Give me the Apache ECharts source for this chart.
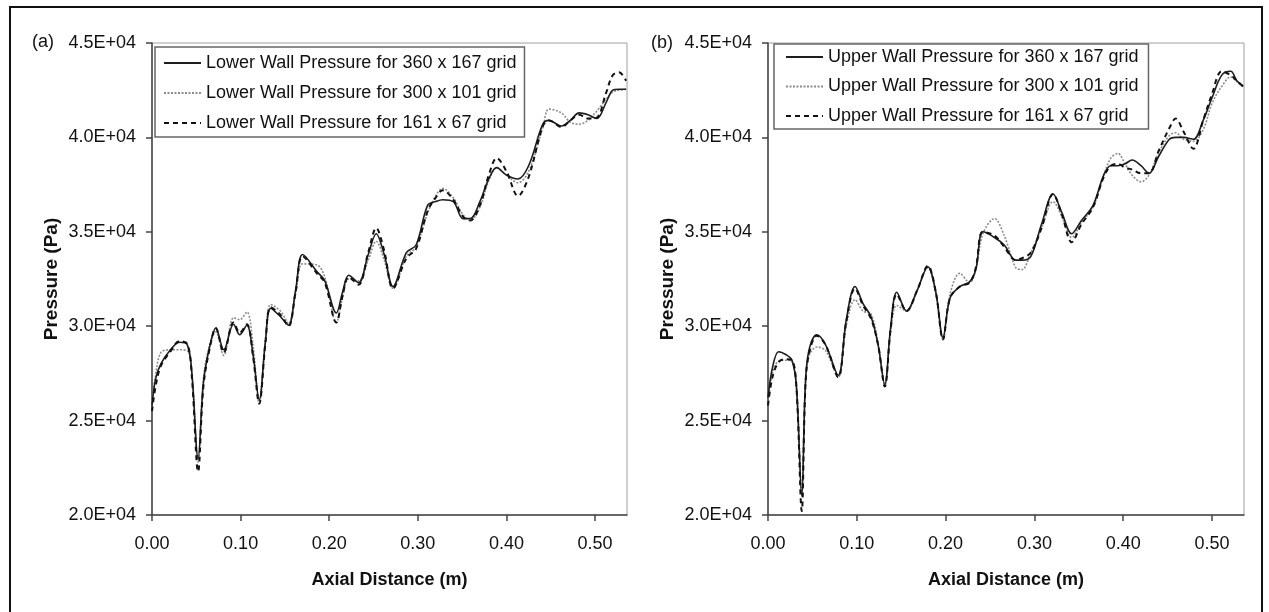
<!DOCTYPE html>
<html>
<head>
<meta charset="utf-8">
<script src="https://cdn.jsdelivr.net/npm/echarts@6/dist/echarts.min.js"></script>
<style>
html,body{margin:0;padding:0;background:#fff;}
#chart{width:1269px;height:612px;}
</style>
</head>
<body>
<div id="chart"></div>
<script>
// ---------- data ----------
const xTicks = [0, 0.1, 0.2, 0.3, 0.4, 0.5];
const yMin = 20000, yMax = 45000, yStep = 5000;
const xMax = 0.536;

const namesLower = [
  'Lower Wall Pressure for 360 x 167 grid',
  'Lower Wall Pressure for 300 x 101 grid',
  'Lower Wall Pressure for 161 x 67 grid'
];
const namesUpper = [
  'Upper Wall Pressure for 360 x 167 grid',
  'Upper Wall Pressure for 300 x 101 grid',
  'Upper Wall Pressure for 161 x 67 grid'
];

// (a) lower wall
const xA = [0, 0.004, 0.01, 0.02, 0.031, 0.04, 0.045, 0.052, 0.058, 0.065, 0.072, 0.081, 0.092, 0.099, 0.107, 0.114, 0.121, 0.128, 0.134, 0.145, 0.154, 0.162, 0.170, 0.186, 0.195, 0.208, 0.215, 0.222, 0.233, 0.244, 0.253, 0.262, 0.272, 0.287, 0.298, 0.311, 0.320, 0.328, 0.340, 0.351, 0.359, 0.370, 0.380, 0.389, 0.400, 0.413, 0.425, 0.441, 0.448, 0.462, 0.472, 0.482, 0.492, 0.502, 0.512, 0.520, 0.527, 0.535];
const lower360 = [25800, 27200, 28000, 28700, 29150, 29000, 27500, 23000, 27000, 28900, 29900, 28750, 30100, 29550, 30050, 28500, 26100, 29200, 30950, 30500, 30050, 31900, 33800, 32900, 32400, 30700, 31800, 32700, 32300, 33800, 34900, 33800, 32100, 33900, 34300, 36400, 36600, 36700, 36600, 35700, 35700, 36600, 37800, 38400, 38000, 37800, 38500, 40700, 40900, 40600, 40900, 41300, 41200, 41000, 41800, 42500, 42550, 42550];
const lower300 = [26000, 27400, 28600, 28750, 28750, 28700, 27500, 22800, 27200, 29000, 29700, 28450, 30450, 30350, 30750, 29000, 25900, 29300, 31150, 30800, 30150, 31700, 33300, 33250, 32600, 30200, 31500, 32500, 32400, 33500, 34500, 33500, 32000, 33700, 34200, 36000, 36900, 37300, 36800, 35900, 35600, 36300, 37700, 38400, 38000, 37600, 38200, 40500, 41500, 41300, 40800, 40700, 40900, 41400, 42000, 42400, 42500, 42550];
const lower161 = [25500, 26800, 27900, 28600, 29200, 29050, 27300, 22300, 26800, 28800, 29900, 28600, 30200, 29650, 30100, 28400, 25900, 29100, 31000, 30600, 30000, 31800, 33700, 32800, 32300, 30200, 31600, 32600, 32200, 33900, 35200, 34000, 32000, 33600, 34100, 36100, 36800, 37200, 36700, 35800, 35600, 36400, 38000, 38900, 38200, 36900, 37900, 40600, 40900, 40550, 40900, 41200, 41000, 41050, 42300, 43300, 43450, 43000];

// (b) upper wall
const xB = [0, 0.005, 0.012, 0.02, 0.027, 0.032, 0.038, 0.042, 0.046, 0.055, 0.065, 0.079, 0.088, 0.098, 0.107, 0.116, 0.124, 0.1315, 0.138, 0.145, 0.156, 0.168, 0.180, 0.189, 0.197, 0.205, 0.216, 0.227, 0.234, 0.242, 0.255, 0.266, 0.279, 0.286, 0.296, 0.308, 0.321, 0.331, 0.342, 0.353, 0.366, 0.378, 0.386, 0.394, 0.402, 0.410, 0.420, 0.429, 0.440, 0.452, 0.459, 0.468, 0.479, 0.490, 0.500, 0.511, 0.521, 0.528, 0.535];
const upper360 = [26200, 27800, 28650, 28500, 28200, 26800, 21000, 26800, 28700, 29550, 29000, 27400, 30300, 32100, 31200, 30500, 29000, 26900, 29900, 31800, 30800, 31900, 33150, 31800, 29400, 31500, 32100, 32350, 33000, 35000, 34700, 34300, 33500, 33500, 33700, 35400, 37000, 36000, 34900, 35600, 36400, 38000, 38500, 38500, 38600, 38800, 38500, 38100, 39000, 39900, 40000, 40000, 39900, 40900, 42100, 43300, 43500, 43000, 42700];
const upper300 = [26000, 27500, 28150, 28200, 28150, 26900, 21200, 26900, 28400, 28900, 28700, 27300, 30000, 31400, 30800, 30650, 29100, 26900, 29700, 31100, 30800, 31900, 33100, 31700, 29300, 31700, 32800, 32300, 33000, 34900, 35700, 34800, 33100, 33000, 33900, 35200, 36600, 35800, 34700, 35500, 36300, 38000, 38900, 39150, 38600, 38000, 37650, 38000, 39200, 40100, 40250, 39900, 39800, 40400, 41800, 42700, 43200, 42950, 42700];
const upper161 = [25800, 27300, 28100, 28250, 28200, 26800, 20200, 26700, 28500, 29500, 29000, 27300, 30200, 32000, 31100, 30400, 29000, 26800, 29800, 31700, 30800, 31900, 33200, 31800, 29300, 31500, 32100, 32300, 33100, 35000, 34800, 34200, 33500, 33600, 33900, 35200, 37000, 35900, 34450, 35400, 36300, 37900, 38500, 38600, 38400, 38300, 38100, 38100, 39300, 40500, 41000, 40300, 39400, 40900, 42300, 43500, 43300, 43000, 42700];

// ---------- chart ----------
const FONT = "'Liberation Sans', Arial, sans-serif";
const pair = (xs, ys) => xs.map((x, i) => [x, ys[i]]);

const styles = [
  { color: '#1e1e1e', width: 1.6, type: 'solid', z: 3 },
  { color: '#8c8c8c', width: 1.6, type: [2, 1.5], z: 2 },
  { color: '#111111', width: 2, type: [5, 4], z: 4 }
];

function mkSeries(names, xs, ysList, idx) {
  return ysList.map((ys, k) => ({
    name: names[k],
    type: 'line',
    xAxisIndex: idx,
    yAxisIndex: idx,
    data: pair(xs, ys),
    smooth: 0.35,
    symbol: 'none',
    showSymbol: false,
    z: styles[k].z,
    lineStyle: { color: styles[k].color, width: styles[k].width, type: styles[k].type },
    itemStyle: { color: styles[k].color },
    animation: false
  }));
}

function xAxisDef(idx) {
  return {
    type: 'value', gridIndex: idx, min: 0, max: xMax,
    name: 'Axial Distance (m)', nameLocation: 'middle', nameGap: 56,
    nameTextStyle: { fontFamily: FONT, fontSize: 18, fontWeight: 'bold', color: '#111' },
    axisLine: { show: true, lineStyle: { color: '#444', width: 1.5 } },
    axisTick: { show: true, inside: false, length: 6, customValues: xTicks, lineStyle: { color: '#444', width: 1.5 } },
    axisLabel: { customValues: xTicks, margin: 20, fontFamily: FONT, fontSize: 18, color: '#111',
      formatter: v => v.toFixed(2) },
    splitLine: { show: false }
  };
}
function yAxisDef(idx) {
  return {
    type: 'value', gridIndex: idx, min: yMin, max: yMax, interval: yStep,
    name: 'Pressure (Pa)', nameLocation: 'middle', nameGap: 91, nameRotate: 90,
    nameTextStyle: { fontFamily: FONT, fontSize: 19, fontWeight: 'bold', color: '#111' },
    axisLine: { show: true, lineStyle: { color: '#444', width: 1.5 } },
    axisTick: { show: true, inside: false, length: 6, lineStyle: { color: '#444', width: 1.5 } },
    axisLabel: { margin: 16, fontFamily: FONT, fontSize: 18, color: '#111',
      formatter: v => (v / 10000).toFixed(1) + 'E+04' },
    splitLine: { show: false }
  };
}

function legendDef(names, left, top, gap, padding) {
  return {
    data: names, orient: 'vertical', left: left, top: top,
    itemWidth: 37, itemHeight: 14, itemGap: gap, padding: padding,
    borderColor: '#666', borderWidth: 1.5, backgroundColor: '#fff',
    selectedMode: false,
    itemStyle: { opacity: 0, borderWidth: 0 },
    textStyle: { fontFamily: FONT, fontSize: 18, color: '#111' }
  };
}

const chart = echarts.init(document.getElementById('chart'), null, { renderer: 'canvas' });
chart.setOption({
  backgroundColor: '#fff',
  animation: false,
  grid: [
    { left: 152, top: 43, width: 475, height: 472, show: true, borderColor: '#a0a0a0', borderWidth: 1, backgroundColor: 'transparent' },
    { left: 768, top: 43, width: 476, height: 472, show: true, borderColor: '#a0a0a0', borderWidth: 1, backgroundColor: 'transparent' }
  ],
  xAxis: [xAxisDef(0), xAxisDef(1)],
  yAxis: [yAxisDef(0), yAxisDef(1)],
  legend: [
    legendDef(namesLower, 155, 47, 12, [7, 8, 5, 8]),
    legendDef(namesUpper, 774, 44, 11.5, [4, 10, 4, 11])
  ],
  series: [].concat(
    mkSeries(namesLower, xA, [lower360, lower300, lower161], 0),
    mkSeries(namesUpper, xB, [upper360, upper300, upper161], 1)
  ),
  graphic: [
    { type: 'polyline', shape: { points: [[10, 612], [10, 7], [1262, 7], [1262, 612]] }, style: { stroke: '#111', lineWidth: 2, fill: null }, silent: true },
    { type: 'text', left: 32, top: 33, style: { text: '(a)', font: "18px 'Liberation Sans', Arial, sans-serif", fill: '#111' } },
    { type: 'text', left: 651, top: 34, style: { text: '(b)', font: "18px 'Liberation Sans', Arial, sans-serif", fill: '#111' } }
  ]
});
</script>
</body>
</html>
